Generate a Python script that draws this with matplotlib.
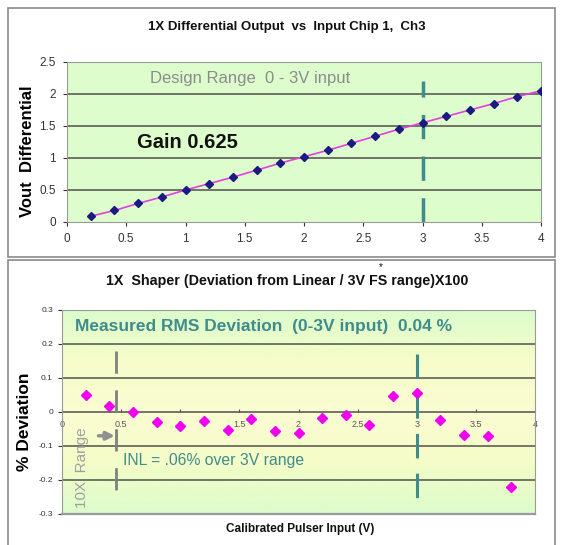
import numpy as np
import matplotlib
matplotlib.use("Agg")
import matplotlib.pyplot as plt
from matplotlib.colors import LinearSegmentedColormap
from matplotlib.patches import Rectangle

plt.rcParams['font.family'] = ['Liberation Sans', 'DejaVu Sans']

# datos del panel superior: salida diferencial vs entrada
x_in = [0.2, 0.4, 0.6, 0.8, 1.0, 1.2, 1.4, 1.6, 1.8, 2.0,
        2.2, 2.4, 2.6, 2.8, 3.0, 3.2, 3.4, 3.6, 3.8, 4.0]
vout = [0.09, 0.18, 0.29, 0.39, 0.50, 0.60, 0.70, 0.81, 0.92, 1.02,
        1.12, 1.23, 1.34, 1.45, 1.55, 1.65, 1.75, 1.85, 1.96, 2.05]

# datos del panel inferior: % desviacion
x_dev = [0.2, 0.4, 0.6, 0.8, 1.0, 1.2, 1.4, 1.6, 1.8, 2.0,
         2.2, 2.4, 2.6, 2.8, 3.0, 3.2, 3.4, 3.6, 3.8]
dev = [0.050, 0.019, 0.000, -0.028, -0.042, -0.026, -0.052, -0.022, -0.055, -0.062,
       -0.019, -0.008, -0.039, 0.047, 0.056, -0.024, -0.068, -0.072, -0.222]

top_xticks = [0, 0.5, 1, 1.5, 2, 2.5, 3, 3.5, 4]
x_labels = ['0', '0.5', '1', '1.5', '2', '2.5', '3', '3.5', '4']
top_yticks = [0, 0.5, 1, 1.5, 2, 2.5]
top_ylabels = ['0', '0.5', '1', '1.5', '2', '2.5']
bot_yticks = [-0.3, -0.2, -0.1, 0, 0.1, 0.2, 0.3]
bot_ylabels = ['-0.3', '-0.2', '-0.1', '0', '0.1', '0.2', '0.3']

W, H = 561, 545
fig = plt.figure(figsize=(W / 100, H / 100), dpi=100)
fig.patch.set_facecolor('white')

def px(l, t, r, b):
    return [l / W, 1 - b / H, (r - l) / W, (b - t) / H]

teal = '#3f8c8c'
grid_c = '#50504a'

# marcos de cada panel
fig.patches.append(Rectangle((8 / W, 1 - 257 / H), 547 / W, 249 / H, transform=fig.transFigure,
                             fill=False, edgecolor='#8a8a8a', linewidth=1.2))
fig.patches.append(Rectangle((8 / W, 1 - 560 / H), 547 / W, 300 / H, transform=fig.transFigure,
                             fill=False, edgecolor='#8a8a8a', linewidth=1.2))

# ---------- panel superior ----------
ax1 = fig.add_axes(px(67, 62, 541, 222))
ax1.set_facecolor('#defdcc')
ax1.set_xlim(0, 4)
ax1.set_ylim(0, 2.5)
for y in top_yticks[1:-1]:
    ax1.axhline(y, color=grid_c, linewidth=1.1, zorder=1)
ax1.plot([3, 3], [0, 2.2], color=teal, linewidth=2.5, dashes=(7, 5), zorder=2)
ax1.plot(x_in, vout, color='#e040e0', linewidth=1.2, zorder=3)
ax1.plot(x_in, vout, linestyle='none', marker='D', markersize=4.5,
         color='#1a1a80', zorder=4)
ax1.set_xticks(top_xticks)
ax1.set_xticklabels(x_labels)
ax1.set_yticks(top_yticks)
ax1.set_yticklabels(top_ylabels)
ax1.tick_params(labelsize=8.5, colors='#333333', length=3, width=0.8, pad=5)
for s in ax1.spines.values():
    s.set_color('#9a9a9a')
ax1.text(0.70, 2.25, 'Design Range  0 - 3V input', fontsize=12, color='#8c8c8c', va='center')
ax1.text(0.59, 1.25, 'Gain 0.625', fontsize=14.5, fontweight='bold', color='#111111', va='center')
ax1.set_ylabel('Vout  Differential', fontsize=12, fontweight='bold')
ax1.yaxis.set_label_coords(-0.067, 0.44)

fig.text(287 / W, 1 - 27 / H, '1X Differential Output  vs  Input Chip 1,  Ch3',
         fontsize=9.5, fontweight='bold', ha='center', va='center', color='#111111')

# ---------- panel inferior ----------
ax2 = fig.add_axes(px(62, 310, 535, 514))
ax2.set_xlim(0, 4)
ax2.set_ylim(-0.3, 0.3)
grad = LinearSegmentedColormap.from_list('g', ['#dcfccc', '#f6fcca', '#fbfdd2', '#f4fcc8', '#dcfccc'])
ax2.imshow(np.linspace(0, 1, 256).reshape(-1, 1), aspect='auto', cmap=grad,
           extent=[0, 4, -0.3, 0.3], zorder=0)
for y in [-0.2, -0.1, 0, 0.1, 0.2]:
    ax2.axhline(y, color=grid_c, linewidth=1.1, zorder=1)
ax2.plot([0.46, 0.46], [0.18, -0.25], color='#808080', linewidth=2, dashes=(8, 6), zorder=2)
ax2.plot([3.0, 3.0], [0.17, -0.26], color=teal, linewidth=2.2, dashes=(8, 5), zorder=2)
ax2.plot(x_dev, dev, linestyle='none', marker='D', markersize=5.5,
         color='#ee00ee', zorder=4)
ax2.spines['bottom'].set_position(('data', 0))
ax2.spines['bottom'].set_visible(False)
ax2.set_xticks(top_xticks)
ax2.set_xticklabels(x_labels)
ax2.tick_params(axis='x', labelsize=6.5, colors='#555555', length=2, pad=6, direction='in')
ax2.set_yticks(bot_yticks)
ax2.set_yticklabels(bot_ylabels)
ax2.tick_params(axis='y', labelsize=6, colors='#333333', length=3, width=0.8)
for k in ['top', 'right', 'left']:
    ax2.spines[k].set_color('#9a9a9a')
ax2.plot([0, 4], [-0.3, -0.3], color='#9a9a9a', linewidth=1.6, clip_on=False, zorder=5)
ax2.text(0.11, 0.25, 'Measured RMS Deviation  (0-3V input)  0.04 %', fontsize=12.5,
         fontweight='bold', color=teal, va='center')
ax2.text(0.515, -0.143, 'INL = .06% over 3V range', fontsize=11.3, color=teal, va='center')
ax2.text(0.166, -0.165, '10X  Range', fontsize=11, color='#a0a0a0', rotation=90,
         ha='center', va='center')
ax2.annotate('', xy=(0.47, -0.07), xytext=(0.285, -0.07),
             arrowprops=dict(arrowstyle='-|>', color='#909090', lw=2.5, mutation_scale=12))
ax2.set_ylabel('% Deviation', fontsize=12.5, fontweight='bold')
ax2.yaxis.set_label_coords(-0.064, 0.45)

fig.text(287 / W, 1 - 281 / H, '1X  Shaper (Deviation from Linear / 3V FS range)X100',
         fontsize=10.3, fontweight='bold', ha='center', va='center', color='#111111')
fig.text(381 / W, 1 - 267 / H, '*', fontsize=7, ha='center', va='center', color='#111111')
fig.text(300 / W, 1 - 529 / H, 'Calibrated Pulser Input (V)',
         fontsize=8.5, fontweight='bold', ha='center', va='center', color='#111111')

fig.savefig('out.png', dpi=100)
